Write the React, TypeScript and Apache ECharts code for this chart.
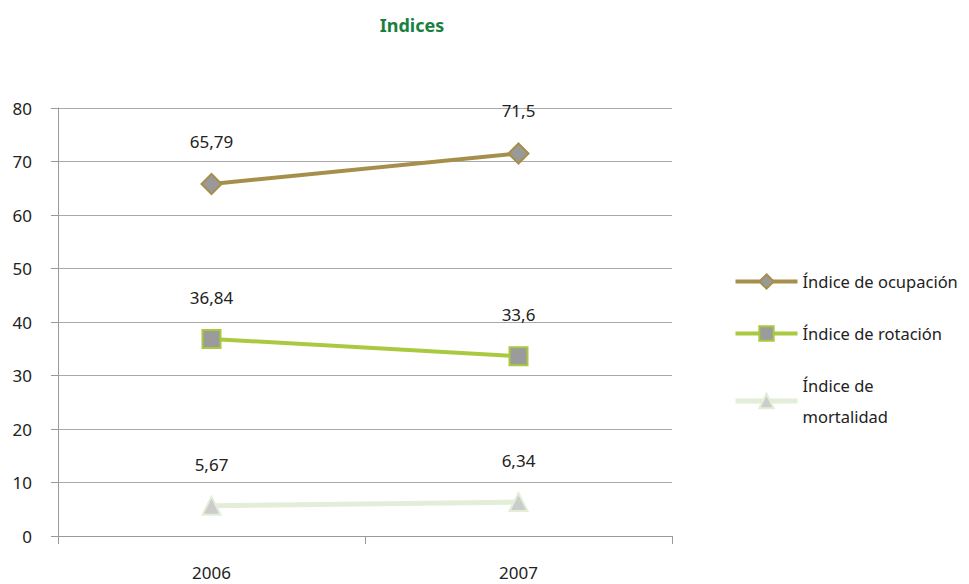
import React, { useEffect, useRef } from "react";
import * as echarts from "echarts";

const categories = ["2006", "2007"];
const ocupacion = [65.79, 71.5];
const rotacion = [36.84, 33.6];
const mortalidad = [5.67, 6.34];
const seriesNames = ["Índice de ocupación", "Índice de rotación", "Índice de mortalidad"];
const titleText = "Indices";

const FONT = "'Noto Sans', sans-serif";
const colors = {
  ocu: "#a68f4b",
  rot: "#a9c93e",
  mor: "#e3eed8",
};

export default function App() {
  const ref = useRef<HTMLDivElement>(null);
  useEffect(() => {
    const chart = echarts.init(ref.current!, undefined, { renderer: "svg" });
    const fmt = (p: any) => String(p.value).replace(".", ",");
    const label = {
      show: true,
      position: "top",
      distance: 23,
      formatter: fmt,
      color: "#222",
      fontSize: 17,
      fontFamily: FONT,
    };
    chart.setOption({
      animation: false,
      backgroundColor: "#fff",
      title: {
        text: titleText,
        left: 407,
        top: 11,
        textAlign: "center",
        textStyle: { color: "#1a7f3f", fontSize: 18, fontWeight: "bold", fontFamily: FONT },
      },
      grid: { left: 58, right: 297, top: 108, bottom: 48 },
      legend: {
        orient: "vertical",
        left: 733,
        top: 266,
        padding: 0,
        itemWidth: 62,
        itemHeight: 18,
        itemGap: 21,
        data: [
          { name: seriesNames[0], lineStyle: { width: 4 } },
          { name: seriesNames[1], lineStyle: { width: 4 } },
          { name: seriesNames[2], lineStyle: { width: 5 } },
        ],
        formatter: (n: string) => (n === "Índice de mortalidad" ? "Índice de\nmortalidad" : n),
        textStyle: { color: "#222", fontSize: 16.5, fontFamily: FONT, lineHeight: 31 },
      },
      xAxis: {
        type: "category",
        data: categories,
        boundaryGap: true,
        axisLine: { lineStyle: { color: "#999", width: 1 } },
        axisTick: { show: true, length: 8, lineStyle: { color: "#999" } },
        axisLabel: { color: "#222", fontSize: 17, fontFamily: FONT, margin: 28 },
      },
      yAxis: {
        type: "value",
        min: 0,
        max: 80,
        interval: 10,
        axisLine: { show: true, lineStyle: { color: "#999" } },
        axisTick: { show: true, length: 7, lineStyle: { color: "#999" } },
        axisLabel: { color: "#222", fontSize: 17, fontFamily: FONT, margin: 26 },
        splitLine: { lineStyle: { color: "#aaa", width: 1 } },
      },
      series: [
        {
          name: seriesNames[0],
          type: "line",
          data: ocupacion,
          symbol: "diamond",
          symbolSize: 20,
          lineStyle: { color: colors.ocu, width: 4 },
          itemStyle: { color: "#999999", borderColor: colors.ocu, borderWidth: 2 },
          label,
        },
        {
          name: seriesNames[1],
          type: "line",
          data: rotacion,
          symbol: "rect",
          symbolSize: 18,
          lineStyle: { color: colors.rot, width: 4 },
          itemStyle: { color: "#9b9b9b", borderColor: colors.rot, borderWidth: 2 },
          label,
        },
        {
          name: seriesNames[2],
          type: "line",
          data: mortalidad,
          symbol: "triangle",
          symbolSize: 18,
          lineStyle: { color: colors.mor, width: 5 },
          itemStyle: { color: "#cccccc", borderColor: colors.mor, borderWidth: 2 },
          label,
        },
      ],
    });
    return () => chart.dispose();
  }, []);
  return <div ref={ref} style={{ width: 969, height: 584, position: "absolute", left: 0, top: 0 }} />;
}
